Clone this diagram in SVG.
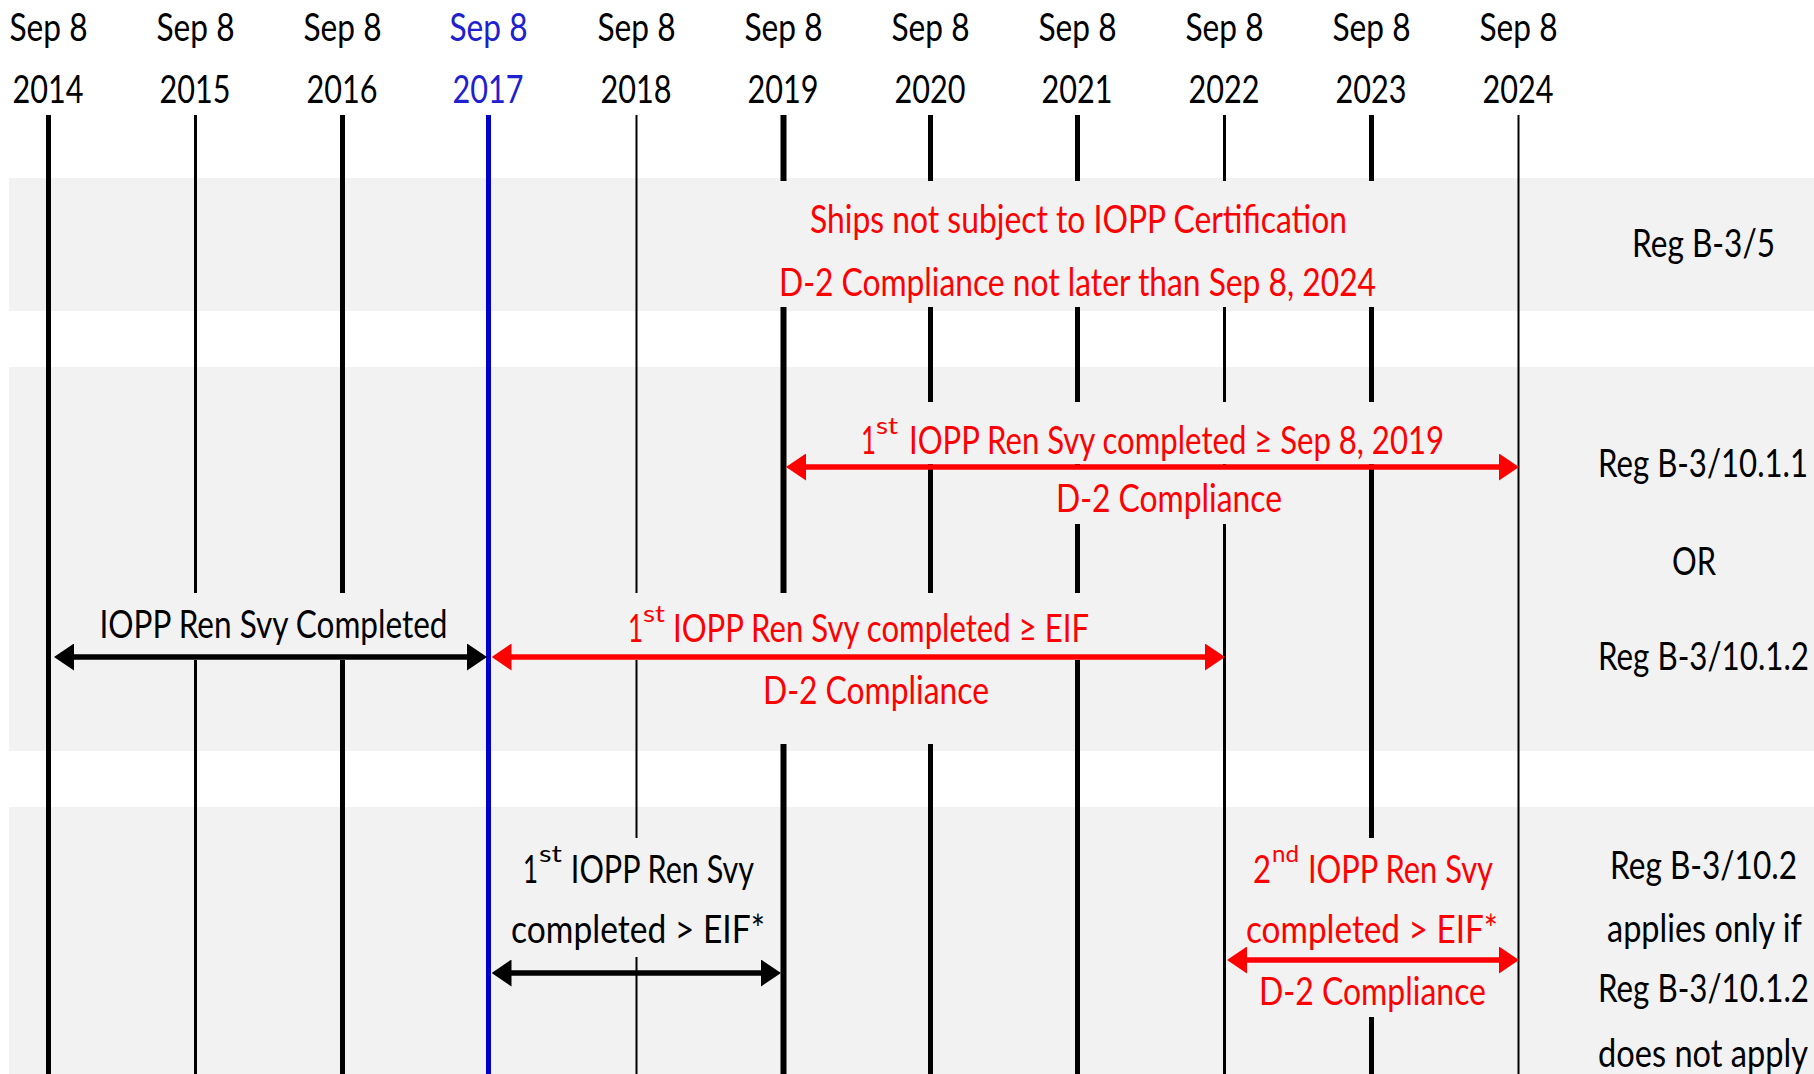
<svg xmlns="http://www.w3.org/2000/svg" width="1814" height="1074" viewBox="0 0 1814 1074">
<style>
text{font-family:Lato,"Liberation Sans",sans-serif;font-size:38px}
.k{fill:#000}
.r{fill:#ff0000}
.b{fill:#2020d0}
.sup{font-size:23px}
.band{fill:#f2f2f2}
.mask{fill:#f2f2f2}
.yl{stroke:#000;fill:none}
.ar{stroke:#ff0000;stroke-width:5.5;fill:none;marker-start:url(#hr);marker-end:url(#hr)}
.ak{stroke:#000;stroke-width:5.5;fill:none;marker-start:url(#hk);marker-end:url(#hk)}
</style>
<defs>
<marker id="hr" viewBox="0 0 20 27" markerWidth="20" markerHeight="27" refX="12" refY="13.5" markerUnits="userSpaceOnUse" orient="auto-start-reverse"><path d="M0,0 L20,13.5 L0,27 z" fill="#ff0000"/></marker>
<marker id="hk" viewBox="0 0 20 27" markerWidth="20" markerHeight="27" refX="12" refY="13.5" markerUnits="userSpaceOnUse" orient="auto-start-reverse"><path d="M0,0 L20,13.5 L0,27 z" fill="#000"/></marker>
</defs>
<rect width="1814" height="1074" fill="#fff"/>
<g id="bands">
<rect class="band" x="9" y="178" width="1805" height="133"/>
<rect class="band" x="9" y="367" width="1805" height="384"/>
<rect class="band" x="9" y="807" width="1805" height="267"/>
</g>
<g id="timeline">
<g id="year-2014"><text class="k" x="9.5" y="41" textLength="78" lengthAdjust="spacingAndGlyphs">Sep 8</text><text class="k" x="12.5" y="103" textLength="71" lengthAdjust="spacingAndGlyphs">2014</text><line class="yl" x1="48.5" y1="115" x2="48.5" y2="1074" stroke-width="5"/></g>
<g id="year-2015"><text class="k" x="156.5" y="41" textLength="78" lengthAdjust="spacingAndGlyphs">Sep 8</text><text class="k" x="159.5" y="103" textLength="71" lengthAdjust="spacingAndGlyphs">2015</text><line class="yl" x1="195.5" y1="115" x2="195.5" y2="1074" stroke-width="3"/></g>
<g id="year-2016"><text class="k" x="303.5" y="41" textLength="78" lengthAdjust="spacingAndGlyphs">Sep 8</text><text class="k" x="306.5" y="103" textLength="71" lengthAdjust="spacingAndGlyphs">2016</text><line class="yl" x1="342.5" y1="115" x2="342.5" y2="1074" stroke-width="5"/></g>
<g id="year-2017"><text class="b" x="449.5" y="41" textLength="78" lengthAdjust="spacingAndGlyphs">Sep 8</text><text class="b" x="452.5" y="103" textLength="71" lengthAdjust="spacingAndGlyphs">2017</text><line x1="488.5" y1="115" x2="488.5" y2="1074" stroke="#0000cc" stroke-width="5"/></g>
<g id="year-2018"><text class="k" x="597.5" y="41" textLength="78" lengthAdjust="spacingAndGlyphs">Sep 8</text><text class="k" x="600.5" y="103" textLength="71" lengthAdjust="spacingAndGlyphs">2018</text><line class="yl" x1="636.5" y1="115" x2="636.5" y2="1074" stroke-width="2"/></g>
<g id="year-2019"><text class="k" x="744.5" y="41" textLength="78" lengthAdjust="spacingAndGlyphs">Sep 8</text><text class="k" x="747.5" y="103" textLength="71" lengthAdjust="spacingAndGlyphs">2019</text><line class="yl" x1="783.5" y1="115" x2="783.5" y2="1074" stroke-width="6"/></g>
<g id="year-2020"><text class="k" x="891.5" y="41" textLength="78" lengthAdjust="spacingAndGlyphs">Sep 8</text><text class="k" x="894.5" y="103" textLength="71" lengthAdjust="spacingAndGlyphs">2020</text><line class="yl" x1="930.5" y1="115" x2="930.5" y2="1074" stroke-width="5"/></g>
<g id="year-2021"><text class="k" x="1038.5" y="41" textLength="78" lengthAdjust="spacingAndGlyphs">Sep 8</text><text class="k" x="1041.5" y="103" textLength="71" lengthAdjust="spacingAndGlyphs">2021</text><line class="yl" x1="1077.5" y1="115" x2="1077.5" y2="1074" stroke-width="5"/></g>
<g id="year-2022"><text class="k" x="1185.5" y="41" textLength="78" lengthAdjust="spacingAndGlyphs">Sep 8</text><text class="k" x="1188.5" y="103" textLength="71" lengthAdjust="spacingAndGlyphs">2022</text><line class="yl" x1="1224.5" y1="115" x2="1224.5" y2="1074" stroke-width="3"/></g>
<g id="year-2023"><text class="k" x="1332.5" y="41" textLength="78" lengthAdjust="spacingAndGlyphs">Sep 8</text><text class="k" x="1335.5" y="103" textLength="71" lengthAdjust="spacingAndGlyphs">2023</text><line class="yl" x1="1371.5" y1="115" x2="1371.5" y2="1074" stroke-width="5"/></g>
<g id="year-2024"><text class="k" x="1479.5" y="41" textLength="78" lengthAdjust="spacingAndGlyphs">Sep 8</text><text class="k" x="1482.5" y="103" textLength="71" lengthAdjust="spacingAndGlyphs">2024</text><line class="yl" x1="1518.5" y1="115" x2="1518.5" y2="1074" stroke-width="2"/></g>
</g>
<g id="label-masks">
<rect class="mask" x="776" y="181" width="604" height="126"/>
<rect class="mask" x="850" y="402" width="600" height="62"/>
<rect class="mask" x="1050" y="468" width="240" height="56"/>
<rect class="mask" x="95" y="593" width="355" height="67"/>
<rect class="mask" x="600" y="593" width="500" height="67"/>
<rect class="mask" x="760" y="660" width="232" height="84"/>
<rect class="mask" x="505" y="838" width="265" height="119"/>
<rect class="mask" x="1240" y="838" width="260" height="179"/>
</g>
<g id="connectors">
<line class="ar" x1="794" y1="467" x2="1511" y2="467"/>
<line class="ak" x1="62" y1="657" x2="479" y2="657"/>
<line class="ar" x1="499.5" y1="657" x2="1217" y2="657"/>
<line class="ak" x1="499.5" y1="973" x2="773" y2="973"/>
<line class="ar" x1="1235" y1="960" x2="1511" y2="960"/>
</g>
<g id="node-b35">
<text class="r" x="810" y="232.5" textLength="537" lengthAdjust="spacingAndGlyphs">Ships not subject to IOPP Certification</text>
<text class="r" x="779" y="296" textLength="597" lengthAdjust="spacingAndGlyphs">D-2 Compliance not later than Sep 8, 2024</text>
</g>
<g id="reg-b35"><text class="k" x="1632" y="257" textLength="143" lengthAdjust="spacingAndGlyphs">Reg B-3/5</text></g>
<g id="node-b3-1011">
<text class="r"><tspan x="861" y="453.5" textLength="15" lengthAdjust="spacingAndGlyphs">1</tspan><tspan class="sup" x="876" y="433.5" textLength="22" lengthAdjust="spacingAndGlyphs">st</tspan><tspan x="901" y="453.5" textLength="543" lengthAdjust="spacingAndGlyphs"> IOPP Ren Svy completed ≥ Sep 8, 2019</tspan></text>
<text class="r" x="1056" y="511.5" textLength="226" lengthAdjust="spacingAndGlyphs">D-2 Compliance</text>
</g>
<g id="reg-b3-10">
<text class="k" x="1598" y="476.7" textLength="210" lengthAdjust="spacingAndGlyphs">Reg B-3/10.1.1</text>
<text class="k" x="1672" y="575" textLength="44" lengthAdjust="spacingAndGlyphs">OR</text>
<text class="k" x="1598" y="670" textLength="211" lengthAdjust="spacingAndGlyphs">Reg B-3/10.1.2</text>
</g>
<g id="node-ren-svy"><text class="k" x="99.5" y="638" textLength="348" lengthAdjust="spacingAndGlyphs">IOPP Ren Svy Completed</text></g>
<g id="node-b3-1012">
<text class="r"><tspan x="628" y="642" textLength="15" lengthAdjust="spacingAndGlyphs">1</tspan><tspan class="sup" x="643" y="622" textLength="22" lengthAdjust="spacingAndGlyphs">st</tspan><tspan x="665" y="642" textLength="424" lengthAdjust="spacingAndGlyphs"> IOPP Ren Svy completed ≥ EIF</tspan></text>
<text class="r" x="763" y="704" textLength="226" lengthAdjust="spacingAndGlyphs">D-2 Compliance</text>
</g>
<g id="node-first-svy">
<text class="k"><tspan x="523" y="883" textLength="15" lengthAdjust="spacingAndGlyphs">1</tspan><tspan class="sup" x="539" y="862" textLength="23" lengthAdjust="spacingAndGlyphs">st</tspan><tspan x="563" y="883" textLength="191" lengthAdjust="spacingAndGlyphs"> IOPP Ren Svy</tspan></text>
<text class="k" x="511" y="942.5" textLength="254" lengthAdjust="spacingAndGlyphs">completed &gt; EIF*</text>
</g>
<g id="node-second-svy">
<text class="r"><tspan x="1253" y="883" textLength="18" lengthAdjust="spacingAndGlyphs">2</tspan><tspan class="sup" x="1272" y="862" textLength="27" lengthAdjust="spacingAndGlyphs">nd</tspan><tspan x="1300" y="883" textLength="193" lengthAdjust="spacingAndGlyphs"> IOPP Ren Svy</tspan></text>
<text class="r" x="1246" y="942.5" textLength="252" lengthAdjust="spacingAndGlyphs">completed &gt; EIF*</text>
<text class="r" x="1259" y="1005" textLength="227" lengthAdjust="spacingAndGlyphs">D-2 Compliance</text>
</g>
<g id="reg-b3-102">
<text class="k" x="1610" y="879" textLength="187" lengthAdjust="spacingAndGlyphs">Reg B-3/10.2</text>
<text class="k" x="1607" y="942" textLength="195" lengthAdjust="spacingAndGlyphs">applies only if</text>
<text class="k" x="1598" y="1001.7" textLength="211" lengthAdjust="spacingAndGlyphs">Reg B-3/10.1.2</text>
<text class="k" x="1598" y="1066.7" textLength="210" lengthAdjust="spacingAndGlyphs">does not apply</text>
</g>
</svg>
